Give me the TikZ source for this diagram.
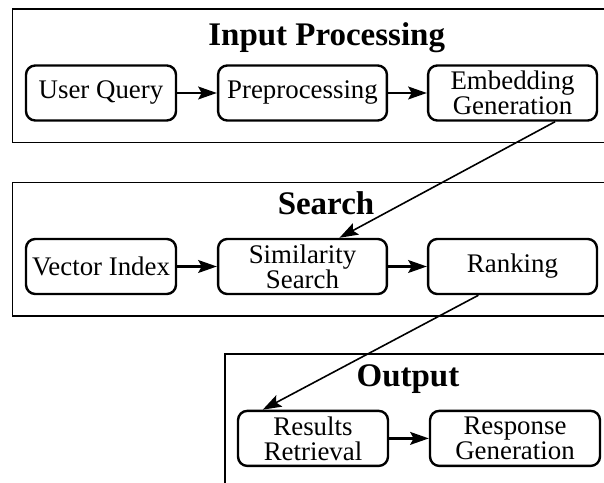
\documentclass[tikz,border=0pt]{standalone}
\usepackage{fontspec}
\setmainfont{Liberation Serif}
\usetikzlibrary{arrows.meta}
\begin{document}
\begin{tikzpicture}[x=0.376pt,y=-0.376pt,
  stage/.style={draw, rounded corners=3.5pt, line width=0.9pt,
    minimum height=20.7pt, inner sep=1pt, align=center,
    font=\fontsize{10.1pt}{9.4pt}\selectfont},
  narrow/.style={stage, minimum width=56.4pt},
  wide/.style={stage, minimum width=63.5pt},
  frame/.style={draw, line width=0.55pt},
  title/.style={anchor=base, font=\fontsize{12.4pt}{14pt}\selectfont\bfseries},
  flow/.style={-{Stealth[length=7pt,width=4.8pt,inset=1.3pt]}, line width=0.95pt},
  link/.style={-{Stealth[length=7pt,width=4.8pt,inset=1.3pt]}, line width=0.6pt}]
\useasboundingbox (0,0) rectangle (604,483);
\clip (0,0) rectangle (604,483);

% stage frames
\draw[frame] (12.7,9) rectangle (660,142.7);
\draw[frame] (12.7,182.3) rectangle (660,316);
\draw[frame] (225,354) rectangle (660,520);

% titles
\node[title] (t1) at (326.7,45.5) {Input Processing};
\node[title] (t2) at (326,215) {Search};
\node[title] (t3) at (408,386.5) {Output};

% input processing
\node[narrow] (uq)   at (101,93)    {User Query};
\node[wide]   (pre)  at (302.5,93)  {Preprocessing};
\node[wide]   (emb)  at (512.5,93)  {Embedding\\Generation};

% search
\node[narrow] (vi)   at (101,266.5)   {Vector Index};
\node[wide]   (sim)  at (302.5,266.5) {Similarity\\Search};
\node[wide]   (rank) at (512.5,266.5) {Ranking};

% output
\node[narrow] (res)  at (313,438.4) {Results\\Retrieval};
\node[wide, minimum width=63.9pt] (resp) at (515,438.4) {Response\\Generation};

% connectors
\draw[flow] (uq) -- (pre);
\draw[flow] (pre) -- (emb);
\draw[flow] (vi) -- (sim);
\draw[flow] (sim) -- (rank);
\draw[flow] (res) -- (resp);
\draw[link] ([xshift=16pt]emb.south) -- ([xshift=13.9pt]sim.north);
\draw[link] ([xshift=-12.8pt]rank.south) -- ([xshift=-18.9pt]res.north);
\end{tikzpicture}
\end{document}
